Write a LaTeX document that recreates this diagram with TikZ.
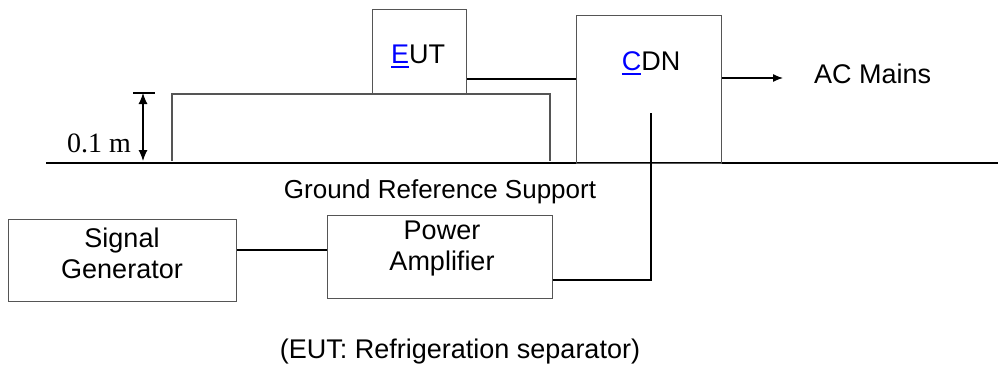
\documentclass[tikz,border=0pt]{standalone}
\usepackage{fontspec}
\setmainfont{Liberation Sans}
\newfontfamily\seriffont{Liberation Serif}
\usetikzlibrary{arrows.meta}
\definecolor{boxgray}{HTML}{555555}
\definecolor{linkblue}{HTML}{0000FF}
\newlength\ulwidth
\newcommand\linkletter[1]{\settowidth\ulwidth{#1}\textcolor{linkblue}{#1\llap{\rule[-4.5pt]{\ulwidth}{2pt}}}}
\begin{document}
\begin{tikzpicture}[x=1pt,y=-1pt,
  box/.style={draw=boxgray,line width=1.4pt,inner sep=0pt,anchor=north west},
  wire/.style={draw=black,line width=1.3pt},
  txt/.style={inner sep=0pt,font=\fontsize{27}{31}\selectfont},
  twoline/.style={txt,align=center,anchor=base}]
\useasboundingbox (0,0) rectangle (998,367);

% ground reference plane
\coordinate (gl) at (46,163);
\coordinate (gr) at (998,163);
\draw[line width=1.8pt] (gl) -- (gr);
\node[txt,font=\fontsize{26}{30}\selectfont,anchor=base] (grs) at (440,198) {Ground Reference Support};

% insulating table
\draw[draw=boxgray,line width=1.4pt] (172,161) -- (172,94) -- (550,94) -- (550,161);

% equipment under test and coupling network
\node[box,minimum width=94pt,minimum height=84pt] (eut) at (372,9) {};
\node[txt,anchor=base] at (418,63) {\linkletter{E}UT};
\node[box,minimum width=145pt,minimum height=148pt] (cdn) at (576,15) {};
\node[txt,anchor=base] at (651,70) {\linkletter{C}DN};

% generator and amplifier (base anchor sits on the last line)
\node[box,minimum width=228pt,minimum height=82pt] (sg) at (8,219) {};
\node[twoline] at (122,278) {Signal\\Generator};
\node[box,minimum width=225pt,minimum height=83pt] (pa) at (327,215) {};
\node[twoline] at (442,270) {Power\\Amplifier};

% connections
\draw[wire] (eut.east |- 0,79) -- (cdn.west |- 0,79);
\coordinate (cdnin) at (651,113);
\draw[wire] (cdnin) -- (651,280) -- (pa.east |- 0,280);
\draw[wire] (sg.east |- 0,250) -- (pa.west |- 0,250);
\coordinate (mainsend) at (783,78);
\draw[wire,-{Latex[length=10pt,width=8pt]}] (cdn.east |- 0,78) -- (mainsend);
\node[txt,anchor=base west] (mains) at (814,83) {AC Mains};

% table height dimension
\coordinate (dimtop) at (143,93);
\coordinate (dimbot) at (143,161);
\draw[line width=1.3pt] (133,93) -- (155,93);
\draw[line width=1.1pt,{Latex[length=11pt,width=9pt]}-{Latex[length=11pt,width=9pt]}] (dimtop) -- (dimbot);
\node[inner sep=0pt,anchor=base east,font=\seriffont\fontsize{28}{30}\selectfont] (dim) at (131,152) {0.1 m};

\node[txt,anchor=base] (note) at (460,358) {(EUT: Refrigeration separator)};
\end{tikzpicture}
\end{document}
